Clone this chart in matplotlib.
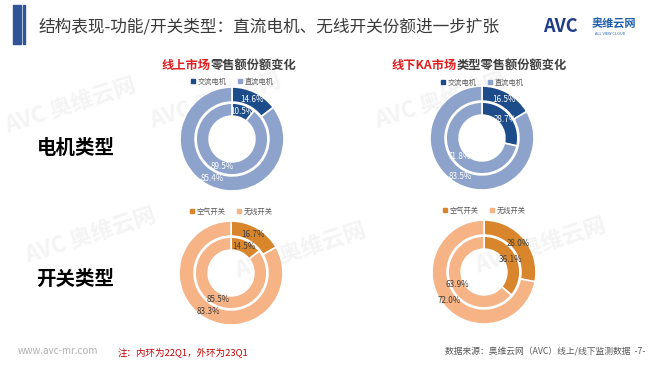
import matplotlib.pyplot as plt
from matplotlib.lines import Line2D
from matplotlib.patches import Rectangle

plt.rcParams['font.family'] = ['Noto Sans CJK SC', 'DejaVu Sans']

W, H = 660, 372

MOTOR_TYPES = ["交流电机", "直流电机"]
SWITCH_TYPES = ["空气开关", "无线开关"]

# inner ring = 22Q1, outer ring = 23Q1
ONLINE_MOTOR_INNER = [10.5, 89.5]
ONLINE_MOTOR_OUTER = [14.6, 85.4]
OFFLINE_MOTOR_INNER = [28.7, 71.8]
OFFLINE_MOTOR_OUTER = [16.5, 83.5]
ONLINE_SWITCH_INNER = [14.5, 85.5]
ONLINE_SWITCH_OUTER = [16.7, 83.3]
OFFLINE_SWITCH_INNER = [36.1, 63.9]
OFFLINE_SWITCH_OUTER = [28.0, 72.0]

BLUES = ["#1c4c8a", "#8ea3cc"]
ORANGES = ["#d8852c", "#f5b386"]


def fx(px):
    return px / W


def fy(py):
    return 1 - py / H


def draw_donut(fig, cx, cy, inner, outer, colors, names, text_color, legend_y):
    r = 52
    half = 1.1 * r
    ax = fig.add_axes([fx(cx - half), fy(cy + half), 2 * half / W, 2 * half / H])
    wprops = dict(edgecolor="white", linewidth=1.2)
    tprops = dict(color=text_color, fontsize=5.8, ha="center", va="center")

    ax.pie(outer, radius=1.0, colors=colors, startangle=90,
           counterclock=False,
           wedgeprops=dict(width=0.29, **wprops),
           labels=[f"{v:.1f}%" for v in outer],
           labeldistance=0.855, textprops=tprops)
    ax.pie(inner, radius=0.69, colors=colors, startangle=90,
           counterclock=False,
           wedgeprops=dict(width=0.25, **wprops),
           labels=[f"{v:.1f}%" for v in inner],
           labeldistance=0.82, textprops=tprops)
    ax.set_xlim(-1.1, 1.1)
    ax.set_ylim(-1.1, 1.1)

    handles = [Line2D([], [], marker="s", linestyle="", color=c, markersize=2.5)
               for c in colors]
    ax.legend(handles, names, loc="center", ncol=2, frameon=False,
              bbox_to_anchor=(0.5, 1 + (cy - half - legend_y) / (2 * half)),
              fontsize=5.2, handlelength=0.6, handletextpad=0.3,
              columnspacing=1.6, labelcolor="#595959")


fig = plt.figure(figsize=(6.6, 3.72), dpi=100)
fig.patch.set_facecolor("white")

# faint watermarks behind the charts
for (x, y) in [(70, 105), (215, 100), (440, 100), (90, 235), (300, 250), (540, 245)]:
    fig.text(fx(x), fy(y), "AVC 奥维云网", fontsize=16, color="#f4f4f4",
             weight="bold", rotation=18, ha="center", va="center", zorder=-1)

# header
fig.add_artist(Rectangle((fx(13), fy(44)), 8 / W, 39 / H, color="#2f5597",
                         transform=fig.transFigure))
fig.add_artist(Rectangle((fx(23), fy(44)), 2 / W, 39 / H, color="#2f5597",
                         transform=fig.transFigure))
fig.text(fx(38), fy(27), "结构表现-功能/开关类型：直流电机、无线开关份额进一步扩张",
         fontsize=12, color="#3a3a3a", va="center")
fig.text(fx(543), fy(27), "AVC", fontsize=13, color="#1f3c88", weight="bold",
         va="center")
fig.text(fx(592), fy(24), "奥维云网", fontsize=8, color="#1f5faf", weight="bold",
         va="center")
fig.text(fx(595), fy(34), "ALL VIEW CLOUD", fontsize=2.8, color="#1f5faf",
         va="center")

# sub titles
fig.text(fx(211), fy(65), "线上市场", fontsize=8.8, color="#e02020",
         weight="bold", ha="right", va="center")
fig.text(fx(211), fy(65), "零售额份额变化", fontsize=8.8, color="#404040",
         weight="bold", ha="left", va="center")
fig.text(fx(457), fy(65), "线下KA市场", fontsize=8.8, color="#e02020",
         weight="bold", ha="right", va="center")
fig.text(fx(457), fy(65), "类型零售额份额变化", fontsize=8.8, color="#404040",
         weight="bold", ha="left", va="center")

# row labels
fig.text(fx(37), fy(149), "电机类型", fontsize=14, weight="bold", va="center")
fig.text(fx(36), fy(279), "开关类型", fontsize=14, weight="bold", va="center")

draw_donut(fig, 232, 139, ONLINE_MOTOR_INNER, ONLINE_MOTOR_OUTER, BLUES,
           MOTOR_TYPES, "white", 82)
draw_donut(fig, 482, 138, OFFLINE_MOTOR_INNER, OFFLINE_MOTOR_OUTER, BLUES,
           MOTOR_TYPES, "white", 83)
draw_donut(fig, 231, 273, ONLINE_SWITCH_INNER, ONLINE_SWITCH_OUTER, ORANGES,
           SWITCH_TYPES, "#404040", 212)
draw_donut(fig, 484, 272, OFFLINE_SWITCH_INNER, OFFLINE_SWITCH_OUTER, ORANGES,
           SWITCH_TYPES, "#404040", 211)

# footer
fig.text(fx(18), fy(351), "www.avc-mr.com", fontsize=7, color="#b0b0b0",
         va="center")
fig.text(fx(118), fy(352), "注：内环为22Q1，外环为23Q1", fontsize=6.8,
         color="#c00000", va="center")
fig.text(fx(645), fy(352), "数据来源：奥维云网（AVC）线上/线下监测数据  -7-",
         fontsize=6.3, color="#595959", ha="right", va="center")

fig.savefig("out.png", dpi=100)
